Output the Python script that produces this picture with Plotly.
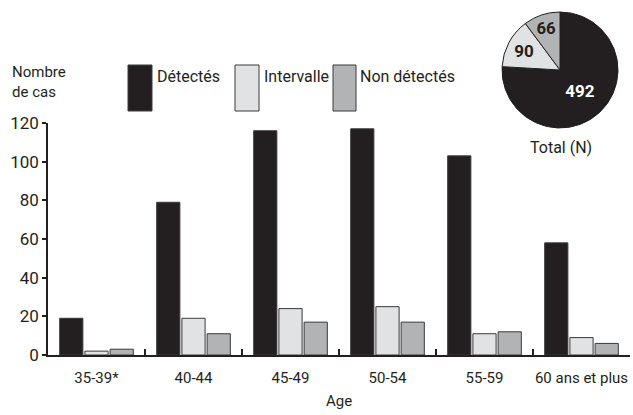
import plotly.graph_objects as go

categories = ["35-39*", "40-44", "45-49", "50-54", "55-59", "60 ans et plus"]
detectes = [19, 79, 116, 117, 103, 58]
intervalle = [2, 19, 24, 25, 11, 9]
non_detectes = [3, 11, 17, 17, 12, 6]
series_names = ["Détectés", "Intervalle", "Non détectés"]
series_values = [detectes, intervalle, non_detectes]
colors = ["#231f20", "#e1e2e4", "#b2b3b5"]
pie_totals = [sum(v) for v in series_values]
y_ticks = [0, 20, 40, 60, 80, 100, 120]

W, H = 633, 415
ML, MR, MT, MB = 48, 3, 10, 60
PW, PH = W - ML - MR, H - MT - MB
FONT = "Roboto, Liberation Sans Narrow, DejaVu Sans Condensed, sans-serif"
FS = 16

def px(x):
    return (x - ML) / PW

def py(y):
    return (H - MB - y) / PH

fig = go.Figure()
for name, vals, c in zip(series_names, series_values, colors):
    fig.add_trace(go.Bar(
        x=categories, y=vals, name=name,
        marker=dict(color=c, line=dict(color="#3a3a3a", width=1)),
        showlegend=False,
    ))

fig.add_trace(go.Pie(
    values=pie_totals, labels=series_names, sort=False, direction="clockwise",
    rotation=0,
    marker=dict(colors=colors, line=dict(color="#231f20", width=1)),
    textinfo="value", textposition="inside", insidetextorientation="horizontal",
    textfont=dict(family=FONT, size=17, weight="bold", color=["white", "#231f20", "#231f20"]),
    domain=dict(x=[px(502), px(618)], y=[py(128), py(12)]),
    showlegend=False, hoverinfo="label+value",
))

# legend boxes and labels
legend_boxes = [(128, 152), (235, 259), (333, 356)]
legend_text_x = [155, 262, 358]
for (x0, x1), tx, name, c in zip(legend_boxes, legend_text_x, series_names, colors):
    fig.add_shape(type="rect", xref="paper", yref="paper",
                  x0=px(x0), x1=px(x1), y0=py(111), y1=py(65),
                  fillcolor=c, line=dict(color="#3a3a3a", width=1))
    fig.add_annotation(x=px(tx), y=py(76), xref="paper", yref="paper",
                       text=name, showarrow=False, xanchor="left", yanchor="middle",
                       font=dict(family=FONT, size=FS, color="#231f20"))

fig.add_annotation(x=px(10), y=py(61), xref="paper", yref="paper",
                   text="Nombre<br>de cas", showarrow=False, xanchor="left", yanchor="top",
                   align="left", font=dict(family=FONT, size=FS - 1, color="#231f20"))
fig.add_annotation(x=px(561), y=py(147), xref="paper", yref="paper",
                   text="Total (N)", showarrow=False, xanchor="center", yanchor="middle",
                   font=dict(family=FONT, size=FS, color="#231f20"))
fig.add_annotation(x=0.5, y=py(401), xref="paper", yref="paper",
                   text="Age", showarrow=False, xanchor="center", yanchor="middle",
                   font=dict(family=FONT, size=FS - 1, color="#231f20"))

fig.update_layout(
    width=W, height=H,
    margin=dict(l=ML, r=MR, t=MT, b=MB, autoexpand=False),
    paper_bgcolor="white", plot_bgcolor="white",
    barmode="group", bargap=0.22, bargroupgap=0.08,
    font=dict(family=FONT, size=FS, color="#231f20"),
    xaxis=dict(
        automargin=False,
        showline=True, linecolor="#231f20", linewidth=1.5,
        ticks="inside", tickson="boundaries", ticklen=6, tickwidth=2, tickcolor="#231f20",
        tickangle=0, tickfont=dict(size=FS - 1), ticklabelstandoff=8,
        showgrid=False,
    ),
    yaxis=dict(
        automargin=False,
        range=[0, 120], tickvals=y_ticks, domain=[0, py(123)],
        showline=True, linecolor="#231f20", linewidth=1.5,
        ticks="outside", ticklen=4, tickwidth=1.5, tickcolor="#231f20",
        tickfont=dict(size=FS + 1),
        showgrid=False, zeroline=False,
    ),
)

fig.write_html("out.html", config={"displayModeBar": False},
               post_script="document.body.style.margin='0';document.body.style.padding='0';")
